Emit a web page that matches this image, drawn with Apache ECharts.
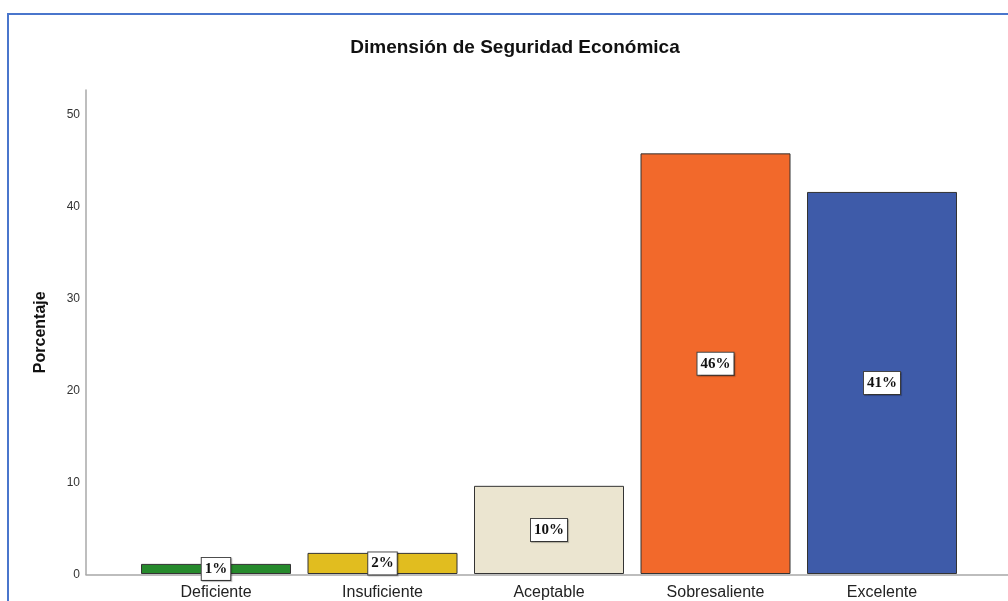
<!DOCTYPE html>
<html>
<head>
<meta charset="utf-8">
<script src="https://cdn.jsdelivr.net/npm/echarts@6/dist/echarts.min.js"></script>
<style>
  html, body { margin: 0; padding: 0; background: #ffffff; }
  #frame { position: absolute; left: 7px; top: 13px; width: 1100px; height: 700px;
           border-left: 2.5px solid #4a76cc; border-top: 2.5px solid #4a76cc; }
  #chart { position: absolute; left: 0; top: 0; width: 1008px; height: 601px; }
</style>
</head>
<body>
<div id="frame"></div>
<div id="chart"></div>
<script>
const titleText = "Dimensión de Seguridad Económica";
const yAxisName = "Porcentaje";
const categories = ["Deficiente", "Insuficiente", "Aceptable", "Sobresaliente", "Excelente"];
const values = [1.1, 2.3, 9.6, 45.8, 41.6];
const valueLabels = ["1%", "2%", "10%", "46%", "41%"];
const barColors = ["#268a2c", "#e1bd1f", "#ebe5d0", "#f2692b", "#3e5ba9"];
const yMin = 0;
const yMax = 52.7;
const yInterval = 10;

const chart = echarts.init(document.getElementById('chart'), null, { renderer: 'canvas' });

const option = {
  backgroundColor: 'transparent',
  animation: false,
  title: {
    text: titleText,
    left: 510,
    top: 33,
    textAlign: 'center',
    textStyle: { fontFamily: 'Liberation Sans, Arial, sans-serif', fontSize: 19, fontWeight: 'bold', color: '#111' }
  },
  grid: [
    { left: 86, right: 0, top: 90, bottom: 26.5 },
    { left: 132.75, right: 42.75, top: 90, bottom: 26.5 }
  ],
  xAxis: [
    {
      gridIndex: 0, type: 'value', min: 0, max: 1,
      axisLine: { show: true, lineStyle: { color: '#a8a8a8', width: 1.5 } },
      axisTick: { show: false }, axisLabel: { show: false }, splitLine: { show: false }
    },
    {
      gridIndex: 1, type: 'category', data: categories,
      axisLine: { show: false }, axisTick: { show: false },
      axisLabel: { margin: 11, fontFamily: 'Liberation Sans, Arial, sans-serif', fontSize: 16, color: '#222' }
    }
  ],
  yAxis: [
    {
      gridIndex: 0, type: 'value', min: yMin, max: yMax, interval: yInterval,
      name: yAxisName, nameLocation: 'middle', nameGap: 37, nameRotate: 90,
      nameTextStyle: { fontFamily: 'Liberation Sans, Arial, sans-serif', fontSize: 16, fontWeight: 'bold', color: '#111' },
      axisLine: { show: true, lineStyle: { color: '#a8a8a8', width: 1.5 } },
      axisTick: { show: false },
      axisLabel: { margin: 6, fontFamily: 'Liberation Sans, Arial, sans-serif', fontSize: 12, color: '#333', showMaxLabel: false,
                   formatter: function (v) { return (v % yInterval === 0) ? String(v) : ''; } },
      splitLine: { show: false }
    },
    {
      gridIndex: 1, type: 'value', min: yMin, max: yMax, interval: yInterval, show: false
    }
  ],
  series: [
    {
      type: 'bar', xAxisIndex: 1, yAxisIndex: 1,
      barWidth: 150,
      data: values.map(function (v, i) {
        return { value: v, itemStyle: { color: barColors[i], borderColor: '#333', borderWidth: 1 } };
      }),
      label: {
        show: true, position: 'inside',
        formatter: function (p) { return valueLabels[p.dataIndex]; },
        fontFamily: 'Liberation Serif, Times New Roman, serif', fontSize: 15, fontWeight: 'bold', color: '#111',
        backgroundColor: '#ffffff', borderColor: '#444', borderWidth: 1, padding: [4, 3, 3, 3],
        shadowColor: 'rgba(0,0,0,0.25)', shadowBlur: 1, shadowOffsetX: 1, shadowOffsetY: 1
      }
    }
  ]
};
chart.setOption(option);
</script>
</body>
</html>
